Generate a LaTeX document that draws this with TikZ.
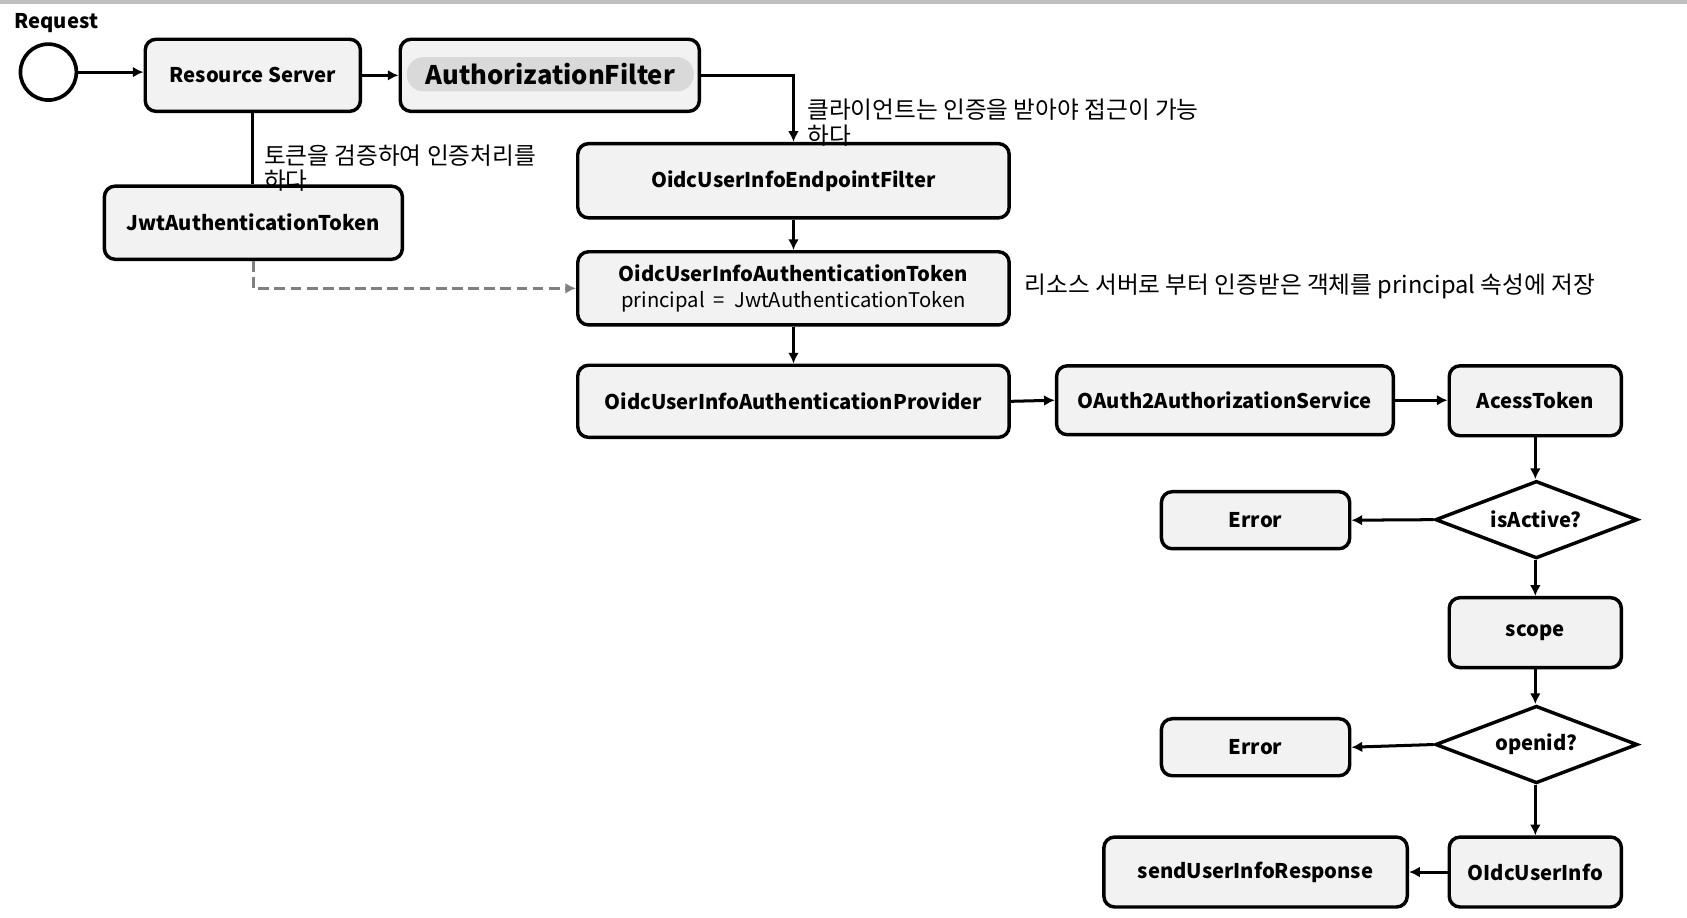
\documentclass[tikz,border=0pt]{standalone}
\usepackage{fontspec}
\setmainfont{Noto Sans CJK KR}
\usetikzlibrary{arrows.meta,shapes.geometric}
\definecolor{boxfill}{HTML}{F2F2F2}
\definecolor{pillfill}{HTML}{D9D9D9}
\definecolor{dashgray}{HTML}{808080}
\definecolor{bargray}{HTML}{BFBFBF}
\begin{document}
\begin{tikzpicture}[x=0.5pt,y=-0.5pt,
  box/.style={draw=black,line width=1.6pt,fill=boxfill,rounded corners=5pt,
    inner sep=0pt,font=\bfseries\fontsize{9.4}{12}\selectfont,align=center},
  dia/.style={draw=black,line width=1.6pt,fill=white,shape=diamond,aspect=2.6,
    inner sep=0pt,minimum width=94pt,minimum height=36pt,font=\bfseries\fontsize{9.4}{12}\selectfont},
  pill/.style={fill=pillfill,rounded corners=8pt,inner sep=0pt,minimum width=133.5pt,
    minimum height=16pt,font=\bfseries\fontsize{11.9}{14}\selectfont},
  conn/.style={line width=1.4pt,-{Latex[length=5pt,width=5pt]}},
  note/.style={inner sep=0pt,font=\fontsize{11}{11.8}\selectfont,align=left}]
\useasboundingbox (0,0) rectangle (1568,853);
\fill[bargray] (0,0) rectangle (1568,4);
\node[anchor=west,inner sep=0pt,font=\bfseries\fontsize{9.4}{12}\selectfont] (req) at (13,21) {Request};
\node[draw=black,line width=1.7pt,circle,minimum size=26pt,inner sep=0pt] (c) at (45,67) {};
\node[box,minimum width=100pt,minimum height=33.5pt] (rs) at (235,70) {Resource Server};
\node[box,minimum width=139pt,minimum height=33.5pt] (af) at (511,70) {};
\node[pill] (afl) at (511.5,69) {AuthorizationFilter};
\node[box,minimum width=138.5pt,minimum height=34pt] (jwt) at (235.5,207) {JwtAuthenticationToken};
\node[box,minimum width=200.5pt,minimum height=34.5pt] (ef) at (737.5,168) {OidcUserInfoEndpointFilter};
\node[box,minimum width=200.5pt,minimum height=34pt] (at) at (737.5,268) {\raisebox{-1.5pt}{OidcUserInfoAuthenticationToken}\\[1.6pt]\mdseries principal\ \ =\ \ JwtAuthenticationToken};
\node[box,minimum width=200.5pt,minimum height=33.5pt] (ap) at (737.5,373) {OidcUserInfoAuthenticationProvider};
\node[box,minimum width=156.5pt,minimum height=32pt] (as) at (1138.5,372) {OAuth2AuthorizationService};
\node[box,minimum width=80pt,minimum height=32.5pt] (tok) at (1427,372.5) {AcessToken};
\node[dia] (d1) at (1428,483) {isActive?};
\node[box,minimum width=87.5pt,minimum height=26.5pt] (e1) at (1167,483.5) {Error};
\node[box,minimum width=80pt,minimum height=32.5pt] (sc) at (1427,588) {scope};
\node[dia] (d2) at (1428,692) {openid?};
\node[box,minimum width=87.5pt,minimum height=26.5pt] (e2) at (1167,694.5) {Error};
\node[box,minimum width=80pt,minimum height=32.5pt] (oui) at (1427,810.5) {OIdcUserInfo};
\node[box,minimum width=141pt,minimum height=32.5pt] (sur) at (1167,810.5) {sendUserInfoResponse};
% notes
\node[note,anchor=north west] (n1) at (750,92) {클라이언트는 인증을 받아야 접근이 가능\\하다};
\node[note,anchor=north west] (n2) at (245,134) {토큰을 검증하여 인증처리를\\하다};
\node[note,anchor=west] (n3) at (952,266) {리소스 서버로 부터 인증받은 객체를 principal 속성에 저장};
% connectors
\draw[conn] (c.east) -- (c.east -| rs.west);
\draw[conn] (rs.east |- af.west) -- (af.west);
\draw[conn] (af.east) -| (ef.north);
\draw[line width=1.4pt] (rs.south) -- (jwt.north -| rs.south);
\draw[line width=1.4pt,dashgray,dashed,dash pattern=on 5pt off 2.5pt,-{Latex[length=5pt,width=5pt]}] (jwt.south) |- (at.west);
\draw[conn] (ef.south) -- (at.north);
\draw[conn] (at.south) -- (ap.north);
\draw[conn] (ap.east) -- (as.west);
\draw[conn] (as.east) -- (tok.west |- as.east);
\draw[conn] (tok.south) -- (d1.north -| tok.south);
\draw[conn] (d1.west) -- (e1.east);
\draw[conn] (d1.south -| sc.north) -- (sc.north);
\draw[conn] (sc.south) -- (d2.north -| sc.south);
\draw[conn] (d2.west) -- (e2.east);
\draw[conn] (d2.south -| oui.north) -- (oui.north);
\draw[conn] (oui.west) -- (sur.east);
\end{tikzpicture}
\end{document}
